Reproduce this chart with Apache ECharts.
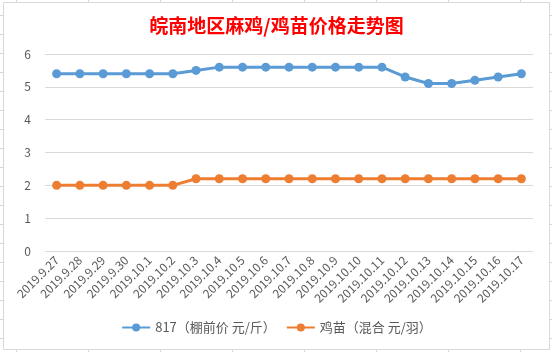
<!DOCTYPE html>
<html>
<head>
<meta charset="utf-8">
<script src="https://cdn.jsdelivr.net/npm/echarts@6/dist/echarts.min.js"></script>
<style>
  html, body { margin: 0; padding: 0; }
  body {
    width: 552px; height: 352px; overflow: hidden; position: relative;
    background-color: #fff;
    background-image:
      linear-gradient(to right, #d6d6d6 1px, transparent 1px),
      linear-gradient(to bottom, #d6d6d6 1px, transparent 1px);
    background-size: 72px 19px;
    background-position: 16px 15px;
  }
  #chart {
    position: absolute; left: 3px; top: 2px;
    width: 545px; height: 346px;
    background: #fff; border: 1px solid #d9d9d9;
  }
</style>
</head>
<body>
<div id="chart"></div>
<script>
// dates on the x axis
const dates = ['2019.9.27', '2019.9.28', '2019.9.29', '2019.9.30', '2019.10.1', '2019.10.2',
  '2019.10.3', '2019.10.4', '2019.10.5', '2019.10.6', '2019.10.7', '2019.10.8', '2019.10.9',
  '2019.10.10', '2019.10.11', '2019.10.12', '2019.10.13', '2019.10.14', '2019.10.15',
  '2019.10.16', '2019.10.17'];
// 817 price (yuan / jin)
const price817 = [5.4, 5.4, 5.4, 5.4, 5.4, 5.4, 5.5, 5.6, 5.6, 5.6, 5.6, 5.6, 5.6, 5.6, 5.6,
  5.3, 5.1, 5.1, 5.2, 5.3, 5.4];
// chick price (yuan / each)
const chickPrice = [2.0, 2.0, 2.0, 2.0, 2.0, 2.0, 2.2, 2.2, 2.2, 2.2, 2.2, 2.2, 2.2, 2.2, 2.2,
  2.2, 2.2, 2.2, 2.2, 2.2, 2.2];
const seriesNames = ['817（棚前价 元/斤）', '鸡苗（混合 元/羽）'];

const font = '"Microsoft YaHei", "Noto Sans CJK SC", sans-serif';
const myChart = echarts.init(document.getElementById('chart'));

const option = {
    backgroundColor: '#fff',
    animation: false,
    textStyle: { fontFamily: font },
    title: {
        text: '皖南地区麻鸡/鸡苗价格走势图',
        left: 'center',
        top: 8,
        textStyle: {
            color: '#ff0000',
            fontSize: 19,
            fontWeight: 'bold',
            fontFamily: font
        }
    },
    legend: {
        bottom: 10,
        left: 'center',
        itemWidth: 28,
        itemHeight: 10,
        itemGap: 10,
        textStyle: { color: '#595959', fontSize: 13 },
        data: seriesNames
    },
    grid: {
        left: 41,
        right: 16,
        top: 51,
        bottom: 98
    },
    xAxis: {
        type: 'category',
        data: dates,
        boundaryGap: true,
        axisLine: { show: false },
        axisTick: { show: false },
        axisLabel: {
            rotate: 45,
            color: '#595959',
            fontSize: 12,
            interval: 0,
            margin: 7
        }
    },
    yAxis: {
        type: 'value',
        min: 0,
        max: 6,
        interval: 1,
        axisLine: { show: false },
        axisTick: { show: false },
        axisLabel: { color: '#595959', fontSize: 12, margin: 14 },
        splitLine: { lineStyle: { color: '#d9d9d9', width: 1 } }
    },
    series: [
        {
            name: seriesNames[0],
            type: 'line',
            data: price817,
            symbol: 'circle',
            symbolSize: 9,
            lineStyle: { color: '#5b9bd5', width: 3 },
            itemStyle: { color: '#5b9bd5' }
        },
        {
            name: seriesNames[1],
            type: 'line',
            data: chickPrice,
            symbol: 'circle',
            symbolSize: 9,
            lineStyle: { color: '#ed7d31', width: 3 },
            itemStyle: { color: '#ed7d31' }
        }
    ]
};
myChart.setOption(option);
</script>
</body>
</html>
